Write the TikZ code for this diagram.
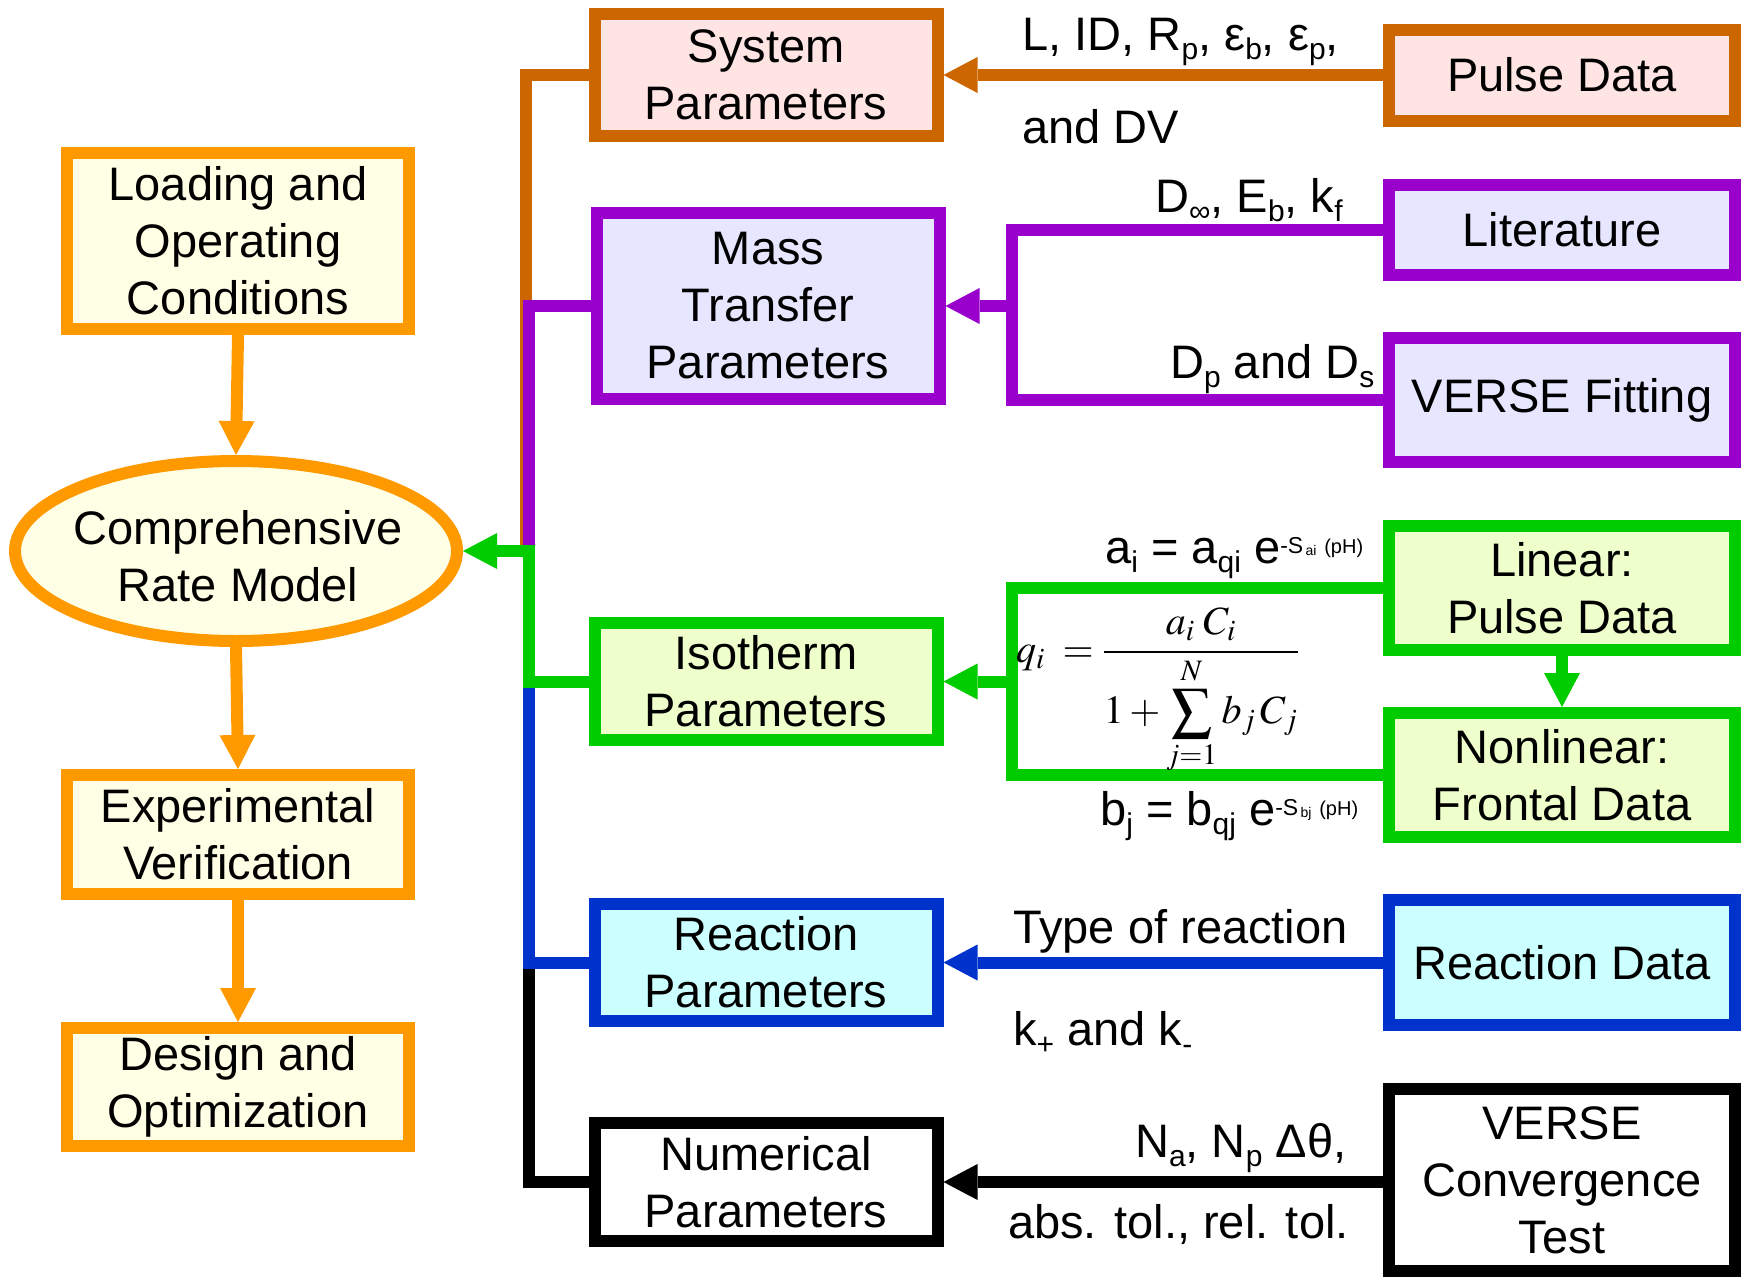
\documentclass[tikz,border=0pt]{standalone}
\usepackage{mathptmx}
\usepackage{fontspec}
\setmainfont{Liberation Sans}
\usetikzlibrary{arrows.meta,shapes.geometric}

\definecolor{oraC}{HTML}{FF9900}
\definecolor{oraF}{HTML}{FFFFE6}
\definecolor{sysC}{HTML}{CC6600}
\definecolor{sysF}{HTML}{FFE4E4}
\definecolor{purC}{HTML}{9900CC}
\definecolor{purF}{HTML}{E6E6FF}
\definecolor{grnC}{HTML}{00CC00}
\definecolor{grnF}{HTML}{EEFFCC}
\definecolor{bluC}{HTML}{0033CC}
\definecolor{bluF}{HTML}{CCFFFF}

\newcommand\bigtxt{\fontsize{47}{57}\selectfont}
% lowered subscript in text
\newcommand\dn[1]{\raisebox{-9pt}{\fontsize{30}{30}\selectfont #1}}
% small exponent -S_x (pH)
\newcommand\expo[1]{\raisebox{10pt}{\fontsize{23}{23}\selectfont -S}\raisebox{8pt}{\fontsize{14}{14}\selectfont\,#1}\,\raisebox{10pt}{\fontsize{20}{20}\selectfont (pH)}}

\begin{document}
\begin{tikzpicture}[x=1pt,y=-1pt,
  >={Triangle[width=36pt,length=34pt,line width=0pt]},
  box/.style={rectangle,line width=12pt,inner sep=2pt,align=center,font=\bigtxt},
  leftbox/.style={box,draw=oraC,fill=oraF,minimum width=342pt},
  sysbox/.style={box,draw=sysC,fill=sysF,minimum width=343pt},
  purbox/.style={box,draw=purC,fill=purF,minimum width=343pt},
  grnbox/.style={box,draw=grnC,fill=grnF,minimum width=343pt},
  blubox/.style={box,draw=bluC,fill=bluF,minimum width=343pt},
  blkbox/.style={box,draw=black,fill=white,minimum width=343pt},
  wire/.style={line width=12pt},
  lbl/.style={font=\bigtxt,inner sep=0pt,anchor=base west}]
\useasboundingbox (0,0) rectangle (1750,1277);

% left column
\node[leftbox,minimum height=176pt] (load) at (238,241) {Loading and\\Operating\\Conditions};
\node[ellipse,draw=oraC,fill=oraF,line width=12pt,minimum width=442pt,minimum height=180pt,inner sep=0pt] (crm) at (236,551) {};
\node[font=\bigtxt,align=center,inner sep=0pt] (crmtxt) at (238,556) {Comprehensive\\Rate Model};
\node[leftbox,minimum height=119pt] (exp) at (238,834.5) {Experimental\\Verification};
\node[leftbox,minimum height=118pt] (design) at (238,1087) {Design and\\Optimization};

% middle column
\node[sysbox,minimum height=122pt] (sys) at (766,75) {System\\Parameters};
\node[purbox,minimum height=186pt] (mass) at (768,306) {Mass\\Transfer\\Parameters};
\node[grnbox,minimum height=117pt] (iso) at (766,681.5) {Isotherm\\Parameters};
\node[blubox,minimum height=117pt] (react) at (766,962.5) {Reaction\\Parameters};
\node[blkbox,minimum height=118pt] (num) at (766,1182) {Numerical\\Parameters};

% right column
\node[sysbox,minimum width=346pt,minimum height=91pt] (pulse) at (1562,75) {Pulse Data};
\node[purbox,minimum width=346pt,minimum height=90pt] (lit) at (1562,230) {Literature};
\node[purbox,minimum width=346pt,minimum height=124pt] (vfit) at (1562,400) {VERSE Fitting};
\node[grnbox,minimum width=346pt,minimum height=124pt] (lin) at (1562,588) {Linear:\\Pulse Data};
\node[grnbox,minimum width=346pt,minimum height=124pt] (nonlin) at (1562,775) {Nonlinear:\\Frontal Data};
\node[blubox,minimum width=346pt,minimum height=125pt] (rdata) at (1562,962.5) {Reaction Data};
\node[blkbox,minimum width=346pt,minimum height=182pt] (vconv) at (1562,1180) {VERSE\\Convergence\\Test};

% left column flow
\draw[wire,oraC,->] (load.south) -- (crm.north);
\draw[wire,oraC,->] (crm.south) -- (exp.north);
\draw[wire,oraC,->] (exp.south) -- (design.north);

% collecting bus into the rate model
\coordinate (busO) at (526,551);
\coordinate (busP) at (529,551);
\draw[wire,sysC] (sys.west) -| (busO);
\draw[wire,purC] (mass.west) -| (busP);
\draw[wire,black] (num.west) -| (busP);
\draw[wire,bluC] (react.west) -| (busP);
\draw[wire,grnC,->] (iso.west) -| (busP) -- (crm.east);

% system parameters
\draw[wire,sysC,->] (pulse.west) -- (sys.east);
\node[lbl] (lsys1) at (1022,50) {L, ID, R\dn{p}, ε\dn{b}, ε\dn{p},};
\node[lbl] (lsys2) at (1022,143) {and DV};

% mass transfer parameters
\coordinate (pj) at (1012,306);
\draw[wire,purC] (lit.west) -| (pj) |- (vfit.west);
\draw[wire,purC,->] (pj) -- (mass.east);
\node[lbl] (lmt1) at (1155,212) {D\dn{∞}, E\dn{b}, k\dn{f}};
\node[lbl] (lmt2) at (1170,378) {D\dn{p} and D\dn{s}};

% isotherm parameters
\coordinate (gj) at (1012,681.5);
\draw[wire,grnC] (lin.west) -| (gj) |- (nonlin.west);
\draw[wire,grnC,->] (gj) -- (iso.east);
\draw[wire,grnC,->] (lin.south) -- (nonlin.north);
\node[lbl] (liso1) at (1105,563) {a\dn{i} = a\dn{qi} e\expo{ai}};
\node[lbl] (liso2) at (1100,825) {b\dn{j} = b\dn{qj} e\expo{bj}};
\node[anchor=base west,inner sep=0pt,font=\fontsize{40}{44}\selectfont] (eq) at (1016,662)
  {$\displaystyle q_i \;= \frac{a_i\; C_i}{1+\displaystyle\sum_{j=1}^{N} b_j\, C_j}$};

% reaction parameters
\draw[wire,bluC,->] (rdata.west) -- (react.east);
\node[lbl] (lr1) at (1013,943) {Type of reaction};
\node[lbl] (lr2) at (1013,1045) {k\dn{+} and k\dn{-}};

% numerical parameters
\draw[wire,black,->] (vconv.west |- num.east) -- (num.east);
\node[lbl] (ln1) at (1135,1157) {N\dn{a}, N\dn{p} Δθ,};
\node[lbl] (ln2) at (1008,1238) {abs. tol., rel. tol.};
\end{tikzpicture}
\end{document}
